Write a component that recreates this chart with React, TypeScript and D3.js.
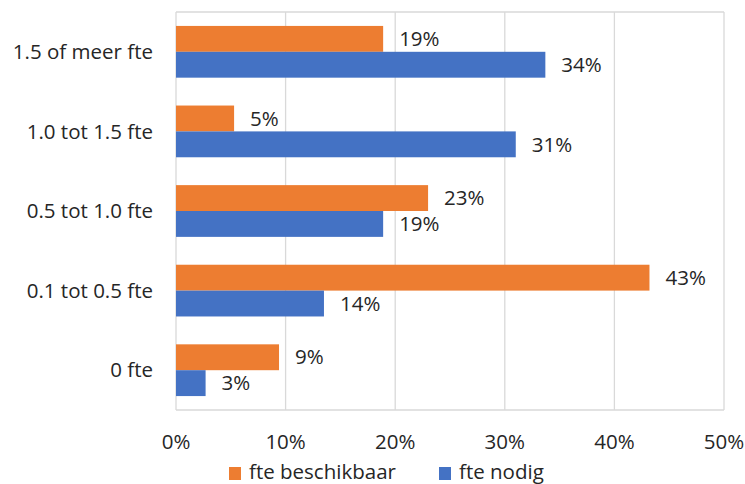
import React from "react";
import * as d3 from "d3";

const categories = ["1.5 of meer fte", "1.0 tot 1.5 fte", "0.5 tot 1.0 fte", "0.1 tot 0.5 fte", "0 fte"];
const beschikbaar = [18.9, 5.3, 23.0, 43.2, 9.4];
const nodig = [33.7, 31.0, 18.9, 13.5, 2.7];
const beschikbaarLabels = ["19%", "5%", "23%", "43%", "9%"];
const nodigLabels = ["34%", "31%", "19%", "14%", "3%"];
const xTicks = [0, 10, 20, 30, 40, 50];
const seriesNames = ["fte beschikbaar", "fte nodig"];
const colors = ["#ED7D31", "#4472C4"];

export default function App() {
  const W = 745, H = 484;
  const left = 176, right = 724, top = 12, bottom = 410;
  const x = d3.scaleLinear().domain([0, 50]).range([left, right]);
  const y = d3.scaleBand<string>().domain(categories).range([top, bottom]).paddingInner(0.35).paddingOuter(0.175);
  const sub = d3.scaleBand<string>().domain(["b", "n"]).range([0, y.bandwidth()]);
  const font = "'Open Sans', sans-serif";
  const textColor = "#262626";
  const fs = 20.5;
  return (
    <svg width={W} height={H} style={{ position: "absolute", left: 0, top: 0, background: "#fff" }} fontFamily={font}>
      {xTicks.map((t) => (
        <line key={"g" + t} x1={x(t)} x2={x(t)} y1={top} y2={bottom} stroke="#d9d9d9" strokeWidth={1.3} />
      ))}
      <line x1={left} x2={right} y1={top} y2={top} stroke="#d9d9d9" strokeWidth={1.3} />
      <line x1={left} x2={right} y1={bottom} y2={bottom} stroke="#d9d9d9" strokeWidth={1.3} />
      {categories.map((c, i) => {
        const y0 = y(c)!;
        const yb = y0 + sub("b")!;
        const yn = y0 + sub("n")!;
        const h = sub.bandwidth();
        return (
          <g key={c}>
            <rect x={x(0)} y={yb} width={x(beschikbaar[i]) - x(0)} height={h} fill={colors[0]} />
            <rect x={x(0)} y={yn} width={x(nodig[i]) - x(0)} height={h} fill={colors[1]} />
            <text x={x(beschikbaar[i]) + 16} y={yb + h / 2} dy="0.35em" fontSize={fs} fill={textColor}>{beschikbaarLabels[i]}</text>
            <text x={x(nodig[i]) + 16} y={yn + h / 2} dy="0.35em" fontSize={fs} fill={textColor}>{nodigLabels[i]}</text>
            <text x={153} y={y0 + y.bandwidth() / 2} dy="0.35em" textAnchor="end" fontSize={fs} fill={textColor}>{c}</text>
          </g>
        );
      })}
      {xTicks.map((t) => (
        <text key={"t" + t} x={x(t)} y={442} dy="0.35em" textAnchor="middle" fontSize={fs} fill={textColor}>{t + "%"}</text>
      ))}
      <rect x={229} y={467} width={12} height={13} fill={colors[0]} />
      <text x={249} y={479} fontSize={fs} fill={textColor}>{seriesNames[0]}</text>
      <rect x={439} y={467} width={12} height={13} fill={colors[1]} />
      <text x={459} y={479} fontSize={fs} fill={textColor}>{seriesNames[1]}</text>
    </svg>
  );
}
